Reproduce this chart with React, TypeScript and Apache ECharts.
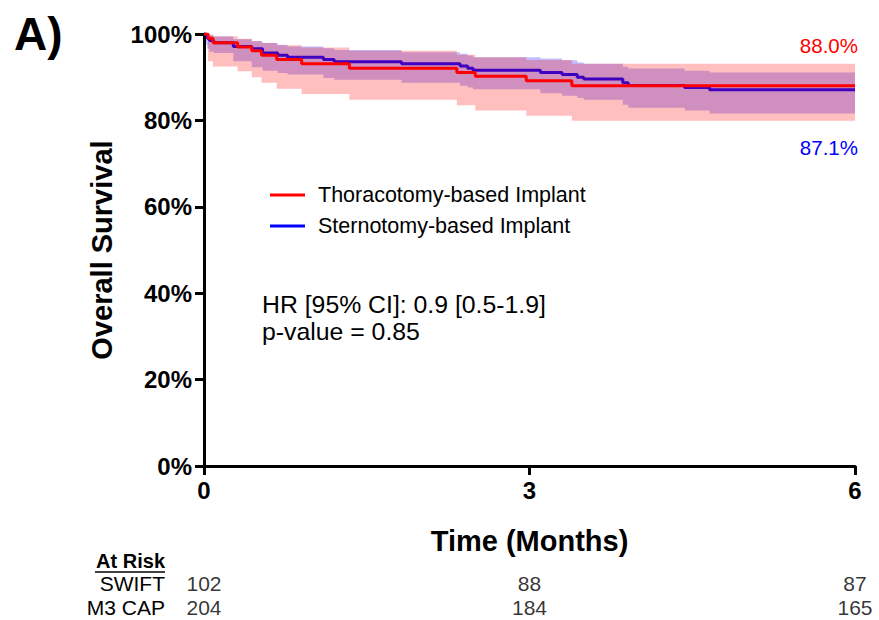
import React, { useEffect, useRef } from "react";
import * as echarts from "echarts";

// Kaplan-Meier step data (time in months, survival %)
const redName = "Thoracotomy-based Implant";
const blueName = "Sternotomy-based Implant";

const redTimes = [0, 0.037, 0.083, 0.31, 0.44, 0.53, 0.67, 0.9, 1.34, 2.33, 2.5, 2.97, 3.39, 6];
const redSurv = [100, 99.0, 98.0, 97.0, 96.1, 95.1, 94.1, 93.1, 92.1, 91.1, 90.2, 89.2, 88.0, 88.0];
const redUpper = [100, 99.9, 99.5, 98.9, 98.4, 97.9, 97.4, 96.9, 96.1, 95.2, 94.6, 94.0, 93.1, 93.1];
const redLower = [100, 93.7, 92.5, 91.4, 90.0, 88.7, 87.3, 86.1, 84.8, 83.5, 82.3, 81.1, 79.9, 79.9];

const blueTimes = [0, 0.02, 0.03, 0.05, 0.09, 0.27, 0.44, 0.54, 0.68, 0.77, 1.1, 1.2, 1.82, 2.36, 2.43, 2.48, 3.1, 3.3, 3.44, 3.5, 3.86, 3.91, 4.43, 4.66, 6];
const blueSurv = [100, 99.5, 99.0, 98.5, 98.0, 97.1, 96.6, 95.6, 95.1, 94.6, 94.1, 93.6, 93.1, 92.6, 92.1, 91.6, 91.1, 90.6, 90.0, 89.6, 88.7, 88.1, 87.6, 87.1, 87.1];
const blueUpper = [100, 100, 99.9, 99.7, 99.4, 98.8, 98.3, 97.9, 97.5, 97.1, 96.7, 96.3, 95.8, 95.4, 95.0, 94.6, 94.3, 93.9, 93.4, 93.1, 92.4, 92.0, 91.5, 91.1, 91.1];
const blueLower = [100, 97.5, 96.6, 95.9, 95.6, 93.7, 92.3, 91.5, 91.0, 90.6, 89.8, 89.4, 88.7, 88.0, 87.6, 87.2, 86.3, 85.7, 85.2, 84.8, 83.6, 82.9, 82.3, 81.6, 81.6];

const yTicks = [0, 20, 40, 60, 80, 100];
const xTicks = [0, 3, 6];

const atRiskGroups = ["M3 CAP", "SWIFT"];
const atRiskTimes = [0, 3, 6];
const atRiskSwift = [102, 88, 87];
const atRiskM3 = [204, 184, 165];

const redFinal = "88.0%";
const blueFinal = "87.1%";
const hrText = "HR [95% CI]: 0.9 [0.5-1.9]";
const pText = "p-value = 0.85";

const FONT = "'Liberation Sans', Arial, Helvetica, sans-serif";

function bandSeries(name: string, times: number[], lower: number[], upper: number[], fill: string, z: number) {
  return {
    type: "custom",
    name,
    xAxisIndex: 0,
    yAxisIndex: 0,
    z,
    clip: true,
    silent: true,
    data: times.map((t, i) => [t, lower[i], upper[i]]),
    encode: { x: 0, y: [1, 2] },
    renderItem: (params: any, api: any) => {
      if (params.dataIndex !== 0) return null;
      const pts: number[][] = [];
      for (let i = 0; i < times.length - 1; i++) {
        pts.push(api.coord([times[i], upper[i]]));
        pts.push(api.coord([times[i + 1], upper[i]]));
      }
      for (let i = times.length - 2; i >= 0; i--) {
        pts.push(api.coord([times[i + 1], lower[i]]));
        pts.push(api.coord([times[i], lower[i]]));
      }
      return { type: "polygon", shape: { points: pts }, style: { fill } };
    },
  };
}

export default function App() {
  const ref = useRef<HTMLDivElement>(null);
  useEffect(() => {
    if (!ref.current) return;
    const chart = echarts.init(ref.current, undefined, { renderer: "svg" });
    const axisLabelStyle = { fontSize: 24, fontWeight: "bold", color: "#000", fontFamily: FONT };
    const option: any = {
      animation: false,
      backgroundColor: "#fff",
      textStyle: { fontFamily: FONT },
      grid: [
        { left: 204, right: 24, top: 34, bottom: 154 },
        { left: 204, right: 24, top: 571, height: 48 },
      ],
      xAxis: [
        {
          type: "value",
          gridIndex: 0,
          min: xTicks[0],
          max: xTicks[xTicks.length - 1],
          interval: 3,
          axisLine: { show: true, lineStyle: { color: "#000", width: 3 } },
          axisTick: { show: true, length: 9, lineStyle: { color: "#000", width: 3 } },
          splitLine: { show: false },
          axisLabel: { ...axisLabelStyle, margin: 12 },
          name: "Time (Months)",
          nameLocation: "middle",
          nameGap: 60,
          nameTextStyle: { fontSize: 29, fontWeight: "bold", color: "#000", fontFamily: FONT },
        },
        {
          type: "value",
          gridIndex: 1,
          min: xTicks[0],
          max: xTicks[xTicks.length - 1],
          show: false,
        },
      ],
      yAxis: [
        {
          type: "value",
          gridIndex: 0,
          min: yTicks[0],
          max: yTicks[yTicks.length - 1],
          interval: 20,
          axisLine: { show: true, lineStyle: { color: "#000", width: 3 } },
          axisTick: { show: true, length: 9, lineStyle: { color: "#000", width: 3 } },
          splitLine: { show: false },
          axisLabel: { ...axisLabelStyle, margin: 12, formatter: "{value}%" },
          name: "Overall Survival",
          nameLocation: "middle",
          nameGap: 88,
          nameRotate: 90,
          nameTextStyle: { fontSize: 29, fontWeight: "bold", color: "#000", fontFamily: FONT },
        },
        {
          type: "category",
          gridIndex: 1,
          data: atRiskGroups,
          axisLine: { show: false },
          axisTick: { show: false },
          splitLine: { show: false },
          axisLabel: { fontSize: 21, color: "#000", fontFamily: FONT, margin: 39, interval: 0 },
        },
      ],
      legend: {
        orient: "vertical",
        left: 265,
        top: 179,
        data: [redName, blueName],
        icon: "rect",
        itemWidth: 35,
        itemHeight: 3,
        itemGap: 9,
        textStyle: { fontSize: 21.5, color: "#000", fontFamily: FONT, lineHeight: 22, padding: [0, 0, 0, 8] },
      },
      series: [
        bandSeries("blueCI", blueTimes, blueLower, blueUpper, "rgba(0,0,255,0.25)", 1),
        {
          type: "line",
          name: blueName,
          z: 2,
          step: "end",
          showSymbol: false,
          symbol: "none",
          color: "#0000ff",
          lineStyle: { color: "#0000ff", width: 3 },
          data: blueTimes.map((t, i) => [t, blueSurv[i]]),
        },
        bandSeries("redCI", redTimes, redLower, redUpper, "rgba(255,0,0,0.25)", 3),
        {
          type: "line",
          name: redName,
          z: 4,
          step: "end",
          showSymbol: false,
          symbol: "none",
          color: "#ff0000",
          lineStyle: { color: "#ff0000", width: 3 },
          data: redTimes.map((t, i) => [t, redSurv[i]]),
        },
        {
          type: "scatter",
          xAxisIndex: 1,
          yAxisIndex: 1,
          symbolSize: 1,
          clip: false,
          itemStyle: { color: "rgba(0,0,0,0)" },
          label: {
            show: true,
            position: "inside",
            formatter: (p: any) => String(p.value[2]),
            fontSize: 21,
            color: "#000",
            fontFamily: FONT,
          },
          data: [
            ...atRiskTimes.map((t, i) => [t, "SWIFT", atRiskSwift[i]]),
            ...atRiskTimes.map((t, i) => [t, "M3 CAP", atRiskM3[i]]),
          ],
        },
      ],
      graphic: [
        {
          type: "text",
          x: 14,
          y: 34,
          style: { text: "A)", fontSize: 46, fontWeight: "bold", fill: "#000", fontFamily: FONT, verticalAlign: "middle" },
        },
        {
          type: "text",
          x: 262,
          y: 304,
          style: { text: hrText, fontSize: 24.8, fill: "#000", fontFamily: FONT, verticalAlign: "middle" },
        },
        {
          type: "text",
          x: 262,
          y: 331,
          style: { text: pText, fontSize: 24.8, fill: "#000", fontFamily: FONT, verticalAlign: "middle" },
        },
        {
          type: "text",
          x: 858,
          y: 45,
          style: { text: redFinal, fontSize: 20.5, fill: "#ff0000", fontFamily: FONT, align: "right", verticalAlign: "middle" },
        },
        {
          type: "text",
          x: 858,
          y: 147,
          style: { text: blueFinal, fontSize: 20.5, fill: "#0000ff", fontFamily: FONT, align: "right", verticalAlign: "middle" },
        },
        {
          type: "text",
          x: 165,
          y: 561,
          style: { text: "At Risk", fontSize: 20, fontWeight: "bold", fill: "#000", fontFamily: FONT, align: "right", verticalAlign: "middle" },
        },
        {
          type: "line",
          shape: { x1: 95, y1: 572, x2: 165, y2: 572 },
          style: { stroke: "#000", lineWidth: 1.5 },
        },
      ],
    };
    chart.setOption(option);
    return () => chart.dispose();
  }, []);
  return (
    <div
      ref={ref}
      style={{ position: "fixed", left: 0, top: 0, width: 879, height: 620, background: "#fff" }}
    />
  );
}
